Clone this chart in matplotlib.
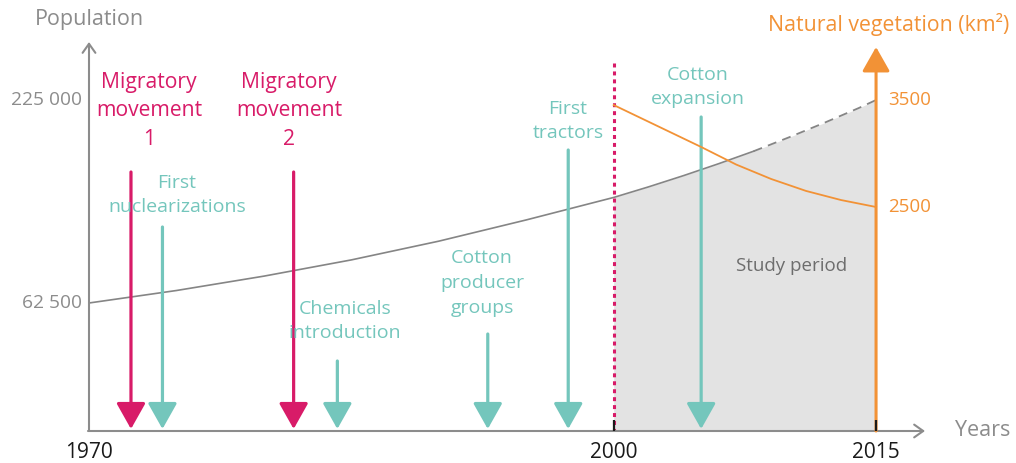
import matplotlib
matplotlib.use("Agg")
import matplotlib.pyplot as plt
from matplotlib.transforms import Affine2D, blended_transform_factory

# ---- data ---------------------------------------------------------------
pop_years = [1970, 1975, 1980, 1985, 1990, 1995, 2000, 2002, 2004, 2006,
             2008, 2010, 2012, 2014, 2015]
population = [62500, 72500, 84000, 97000, 112000, 129000, 147000, 155500,
              164500, 174000, 184000, 195000, 206500, 218500, 225000]
projection_from = 2008          # population curve is dashed after this year

veg_years = [2000, 2002.5, 2005, 2007, 2009, 2011, 2013, 2015]
vegetation = [3453, 3257, 3061, 2897, 2762, 2650, 2565, 2500]

pop_ticks = [62500, 225000]
pop_tick_labels = ["62 500", "225 000"]
veg_ticks = [2500, 3500]
veg_tick_labels = ["2500", "3500"]
year_ticks = [1970, 2000, 2015]
year_tick_labels = ["1970", "2000", "2015"]

migration_years = [1972.4, 1981.7]
migration_labels = ["Migratory\nmovement\n1", "Migratory\nmovement\n2"]

event_years = [1974.2, 1984.2, 1992.8, 1997.4, 2005.0]
event_labels = ["First\nnuclearizations", "Chemicals\nintroduction",
                "Cotton\nproducer\ngroups", "First\ntractors",
                "Cotton\nexpansion"]

study_start, study_end = 2000, 2015

# ---- style --------------------------------------------------------------
PINK = "#d81b68"
TEAL = "#74c6bc"
ORANGE = "#f29236"
AXIS_GREY = "#8c8c8c"
CURVE_GREY = "#858585"
FILL_GREY = "#e3e3e3"
FONT = ["Open Sans", "DejaVu Sans"]
plt.rcParams["font.family"] = FONT

W, H, DPI = 1016, 463, 100
fig = plt.figure(figsize=(W / DPI, H / DPI), dpi=DPI)
ax = fig.add_axes([0, 0, 1, 1])
ax.axis("off")

# scale: pixels per year and per population unit
X0_PX, PX_PER_YEAR = 89, 17.49
BASE_PX = 431                      # y pixel of the time axis
ax.set_xlim(1970 - X0_PX / PX_PER_YEAR, 1970 + (W - X0_PX) / PX_PER_YEAR)
pop_per_px = (225000 - 62500) / (303 - 100)
ax.set_ylim(62500 - (H - 303) * pop_per_px, 62500 + 303 * pop_per_px)

ax2 = ax.twinx()
ax2.axis("off")
veg_per_px = (3500 - 2500) / (207 - 100)
ax2.set_ylim(3500 - (H - 100) * veg_per_px, 3500 + 100 * veg_per_px)
ax2.set_xlim(ax.get_xlim())

# pixel-based transforms (origin top-left)
px = Affine2D().scale(1 / W, -1 / H).translate(0, 1) + fig.transFigure
x_data_y_px = blended_transform_factory(ax.transData, px)
x_px_y_pop = blended_transform_factory(px, ax.transData)
x_px_y_veg = blended_transform_factory(px, ax2.transData)

base_pop = ax.get_ylim()[0] + (H - BASE_PX) * pop_per_px

# ---- study period shading and population curve ---------------------------
fill_x = [y for y in pop_years if study_start <= y <= study_end]
fill_y = [p for y, p in zip(pop_years, population) if study_start <= y <= study_end]
ax.fill_between(fill_x, base_pop, fill_y, color=FILL_GREY, lw=0, zorder=1)

solid_x = [y for y in pop_years if y <= projection_from]
solid_y = population[:len(solid_x)]
dash_x = [y for y in pop_years if y >= projection_from]
dash_y = population[len(pop_years) - len(dash_x):]
ax.plot(solid_x, solid_y, color=CURVE_GREY, lw=1.2, zorder=3)
ax.plot(dash_x, dash_y, color=CURVE_GREY, lw=1.3, ls=(0, (5, 3.5)), zorder=3)

# vegetation curve
ax2.plot(veg_years, vegetation, color=ORANGE, lw=1.3, zorder=4)

# ---- axes ----------------------------------------------------------------
ax.annotate("", xy=(925, BASE_PX), xytext=(X0_PX - 1, BASE_PX),
            xycoords=px, textcoords=px,
            arrowprops=dict(arrowstyle="->,head_length=6.5,head_width=4.6",
                            mutation_scale=1, color=AXIS_GREY, lw=1.5,
                            shrinkA=0, shrinkB=0), zorder=5)
ax.annotate("", xy=(X0_PX, 42), xytext=(X0_PX, BASE_PX),
            xycoords=px, textcoords=px,
            arrowprops=dict(arrowstyle="->,head_length=6.5,head_width=4.6",
                            mutation_scale=1, color=AXIS_GREY, lw=1.5,
                            shrinkA=0, shrinkB=0), zorder=5)

# vegetation axis (orange arrow at the end of the study period)
ax.annotate("", xy=(study_end, 47), xytext=(study_end, BASE_PX),
            xycoords=x_data_y_px, textcoords=x_data_y_px,
            arrowprops=dict(arrowstyle="-|>,head_length=15,head_width=8.5",
                            mutation_scale=1, color=ORANGE, lw=2.2,
                            shrinkA=0, shrinkB=0), zorder=5)

# start of study period
ax.plot([study_start, study_start], [63, BASE_PX], transform=x_data_y_px,
        color=PINK, lw=2.2, ls=(0, (1.3, 1.3)), zorder=4)

# year ticks and labels
for yr, lab in zip(year_ticks, year_tick_labels):
    if yr != 1970:
        ax.plot([yr, yr], [420, BASE_PX], transform=x_data_y_px,
                color="#1a1a1a", lw=1.6, zorder=6, solid_capstyle="butt")
    ax.text(yr, 452, lab, transform=x_data_y_px, ha="center", va="center",
            fontsize=15, color="#1a1a1a")

for v, lab in zip(pop_ticks, pop_tick_labels):
    ax.text(82, v, lab, transform=x_px_y_pop, ha="right", va="center",
            fontsize=13.8, color=AXIS_GREY)
for v, lab in zip(veg_ticks, veg_tick_labels):
    ax2.text(888, v, lab, transform=x_px_y_veg, ha="left", va="center",
             fontsize=13.5, color=ORANGE)

ax.text(89, 19, "Population", transform=px, ha="center", va="center",
        fontsize=15.5, color=AXIS_GREY)
ax.text(955, 431, "Years", transform=px, ha="left", va="center",
        fontsize=15.5, color=AXIS_GREY)
ax.text(889, 24, "Natural vegetation (km²)", transform=px, ha="center",
        va="center", fontsize=15.3, color=ORANGE)
ax.text(792, 266, "Study period", transform=px, ha="center", va="center",
        fontsize=13.5, color="#6d6d6d", zorder=6)

# ---- event arrows --------------------------------------------------------
def event_arrow(year, top_px, color):
    ax.annotate("", xy=(year, BASE_PX - 2), xytext=(year, top_px),
                xycoords=x_data_y_px, textcoords=x_data_y_px,
                arrowprops=dict(arrowstyle="-|>,head_length=16,head_width=9",
                                mutation_scale=1, color=color, lw=2.3,
                                shrinkA=0, shrinkB=0), zorder=5)

migration_tops = [172, 172]
migration_text_pos = [(149, 111), (289, 111)]
for yr, top, lab, (tx, ty) in zip(migration_years, migration_tops,
                                  migration_labels, migration_text_pos):
    event_arrow(yr, top, PINK)
    ax.text(tx, ty, lab, transform=px, ha="center", va="center",
            multialignment="center", fontsize=15.2, color=PINK,
            linespacing=1.45)

event_tops = [227, 361, 334, 150, 117]
event_text_pos = [(177, 195), (345, 321), (482, 283), (568, 121), (698, 87)]
for yr, top, lab, (tx, ty) in zip(event_years, event_tops, event_labels,
                                  event_text_pos):
    event_arrow(yr, top, TEAL)
    ax.text(tx, ty, lab, transform=px, ha="center", va="center",
            multialignment="center", fontsize=14, color=TEAL,
            linespacing=1.5, zorder=6)

fig.savefig("out.png", dpi=DPI)
